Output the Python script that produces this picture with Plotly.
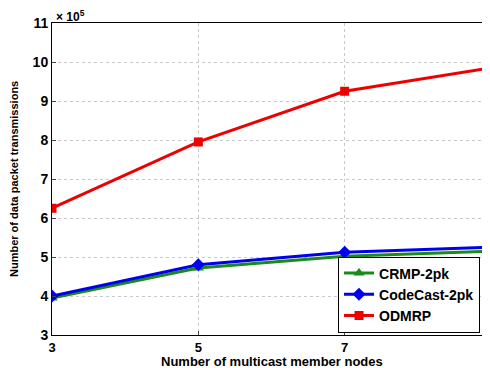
import plotly.graph_objects as go

x_nodes = [3, 5, 7, 9]
crmp = [3.95, 4.72, 5.02, 5.15]
codecast = [4.0, 4.8, 5.12, 5.25]
odmrp = [6.25, 7.95, 9.25, 9.85]

fig = go.Figure()
fig.add_trace(go.Scatter(x=x_nodes, y=crmp, name="CRMP-2pk", mode="lines+markers",
                         line=dict(color="#1a8a1a", width=3),
                         marker=dict(symbol="triangle-up", size=10, color="#1a8a1a")))
fig.add_trace(go.Scatter(x=x_nodes, y=codecast, name="CodeCast-2pk", mode="lines+markers",
                         line=dict(color="#0000ee", width=3),
                         marker=dict(symbol="diamond", size=10, color="#0000ee")))
fig.add_trace(go.Scatter(x=x_nodes, y=odmrp, name="ODMRP", mode="lines+markers",
                         line=dict(color="#ee0000", width=3),
                         marker=dict(symbol="square", size=9, color="#ee0000")))

font_fam = "Liberation Sans, Arial, sans-serif"
fig.update_layout(
    width=490, height=368,
    margin=dict(l=44, r=7, t=15, b=41),
    paper_bgcolor="white", plot_bgcolor="white",
    font=dict(family=font_fam, color="black", size=12),
    showlegend=True,
    legend=dict(x=0.975, y=0.008, xanchor="right", yanchor="bottom",
                bgcolor="white", bordercolor="black", borderwidth=1,
                font=dict(size=14, family=font_fam, weight="bold"),
                tracegroupgap=0, itemwidth=30),
    xaxis=dict(range=[3, 9], tickvals=x_nodes, ticktext=[str(v) for v in x_nodes],
               showgrid=True, gridcolor="#c8c8c8", griddash="dot", gridwidth=1,
               showline=True, linecolor="black", linewidth=1, mirror=True,
               ticks="inside", ticklen=4, zeroline=False, automargin=False,
               tickfont=dict(size=13, weight="bold"),
               title=dict(text="")),
    yaxis=dict(range=[3, 11], tickvals=[3, 4, 5, 6, 7, 8, 9, 10, 11],
               showgrid=True, gridcolor="#c8c8c8", griddash="dot", gridwidth=1,
               showline=True, linecolor="black", linewidth=1, mirror=True,
               ticks="inside", ticklen=4, zeroline=False, automargin=False,
               tickfont=dict(size=14, weight="bold"),
               title=dict(text="")),
    annotations=[
        dict(text="<b>× 10<sup>5</sup></b>", xref="paper", yref="paper",
             x=0.0, y=1.0, xanchor="left", yanchor="bottom", showarrow=False,
             xshift=2, yshift=-3, font=dict(size=12)),
        dict(text="<b>Number of multicast member nodes</b>", xref="paper", yref="paper",
             x=0.5, y=0, yshift=-17, xanchor="center", yanchor="top", showarrow=False,
             font=dict(size=13)),
        dict(text="<b>Number of data packet transmissions</b>", xref="paper", yref="paper",
             x=0, y=0.5, xshift=-30, xanchor="right", yanchor="middle", showarrow=False,
             textangle=-90, font=dict(size=11)),
    ],
)
fig.write_html("out.html")
